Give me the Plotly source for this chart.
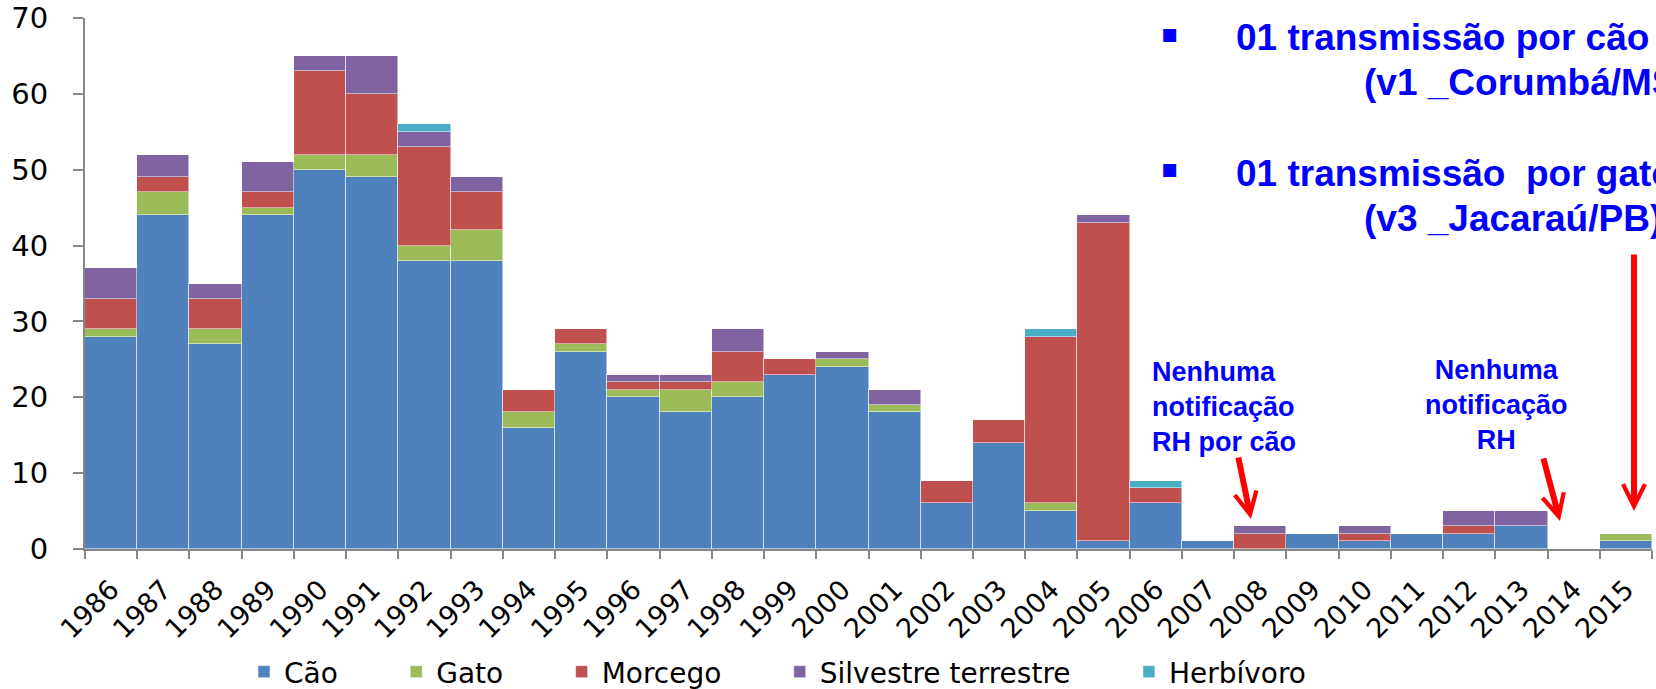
import plotly.graph_objects as go

# ---------------- data ----------------
years = ["1986", "1987", "1988", "1989", "1990", "1991", "1992", "1993", "1994", "1995",
         "1996", "1997", "1998", "1999", "2000", "2001", "2002", "2003", "2004", "2005",
         "2006", "2007", "2008", "2009", "2010", "2011", "2012", "2013", "2014", "2015"]
cao = [28, 44, 27, 44, 50, 49, 38, 38, 16, 26,
       20, 18, 20, 23, 24, 18, 6, 14, 5, 1,
       6, 1, 0, 2, 1, 2, 2, 3, 0, 1]
gato = [1, 3, 2, 1, 2, 3, 2, 4, 2, 1,
        1, 3, 2, 0, 1, 1, 0, 0, 1, 0,
        0, 0, 0, 0, 0, 0, 0, 0, 0, 1]
morcego = [4, 2, 4, 2, 11, 8, 13, 5, 3, 2,
           1, 1, 4, 2, 0, 0, 3, 3, 22, 42,
           2, 0, 2, 0, 1, 0, 1, 0, 0, 0]
silvestre = [4, 3, 2, 4, 2, 5, 2, 2, 0, 0,
             1, 1, 3, 0, 1, 2, 0, 0, 0, 1,
             0, 0, 1, 0, 1, 0, 2, 2, 0, 0]
herbivoro = [0, 0, 0, 0, 0, 0, 1, 0, 0, 0,
             0, 0, 0, 0, 0, 0, 0, 0, 1, 0,
             1, 0, 0, 0, 0, 0, 0, 0, 0, 0]
series_names = ["Cão", "Gato", "Morcego", "Silvestre terrestre", "Herbívoro"]
series_values = [cao, gato, morcego, silvestre, herbivoro]
series_colors = ["#4F81BD", "#9BBB59", "#C0504D", "#8064A2", "#4BACC6"]

# ---------------- layout geometry ----------------
W, H = 1656, 689
ML, MR, MT, MB = 85, 4, 18, 140
PW = W - ML - MR
PH = H - MT - MB


def px_x(px):
    return (px - ML) / PW


def px_y(py):
    return (H - MB - py) / PH


LEGEND_PAD = "\u00a0" * 6  # extra spacing between legend entries

fig = go.Figure()
for i, (name, vals, col) in enumerate(zip(series_names, series_values, series_colors)):
    label = name + (LEGEND_PAD if i < len(series_names) - 1 else "")
    fig.add_trace(go.Bar(
        x=years,
        y=[v if v else None for v in vals],
        name=label,
        marker=dict(color=col, line=dict(color="rgba(255,255,255,0.5)", width=1)),
    ))

CHART_FONT = "DejaVu Sans"
AX_COLOR = "#878787"

fig.update_layout(
    width=W, height=H,
    margin=dict(l=ML, r=MR, t=MT, b=MB, pad=0, autoexpand=False),
    barmode="stack",
    bargap=0,
    plot_bgcolor="white",
    paper_bgcolor="white",
    font=dict(family=CHART_FONT, color="black"),
    showlegend=True,
    legend=dict(
        orientation="h",
        traceorder="normal",
        xref="container", yref="container",
        x=244 / W, xanchor="left",
        y=1 - 672 / H, yanchor="middle",
        font=dict(family=CHART_FONT, size=28, color="black"),
        bgcolor="rgba(0,0,0,0)",
    ),
    xaxis=dict(
        type="category",
        automargin=False,
        tickson="boundaries",
        ticks="outside", ticklen=8, tickwidth=2, tickcolor=AX_COLOR,
        showline=True, linecolor=AX_COLOR, linewidth=2,
        showgrid=False,
        tickangle=-45,
        tickfont=dict(family=CHART_FONT, size=27, color="black"),
        ticklabelstandoff=12,
    ),
    yaxis=dict(
        range=[0, 70], dtick=10,
        automargin=False,
        ticks="outside", ticklen=10, tickwidth=2, tickcolor=AX_COLOR,
        showline=True, linecolor=AX_COLOR, linewidth=2,
        showgrid=False, zeroline=False,
        tickfont=dict(family=CHART_FONT, size=29, color="black"),
        ticklabelstandoff=19,
    ),
)

BLUE = "#0000FF"
TXT_FONT = "Liberation Sans"
annots = []

# bullets
for yy in (33, 168):
    annots.append(dict(xref="paper", yref="paper", x=px_x(1170), y=px_y(yy),
                       xanchor="center", yanchor="middle", showarrow=False,
                       text="▪", font=dict(family="DejaVu Sans", size=26, color=BLUE)))

big_lines = [
    ("<b>01 transmissão por cão</b>", 1234, 37),
    ("<b>(v1 _Corumbá/MS)</b>", 1362, 82),
    ("<b>01 transmissão  por gato</b>", 1234, 173),
    ("<b>(v3 _Jacaraú/PB)</b>", 1362, 218),
]
for txt, xx, yy in big_lines:
    annots.append(dict(xref="paper", yref="paper", x=px_x(xx), y=px_y(yy),
                       xanchor="left", yanchor="middle", showarrow=False,
                       text=txt, font=dict(family=TXT_FONT, size=37, color=BLUE)))

annots.append(dict(xref="paper", yref="paper", x=px_x(1150), y=px_y(407),
                   xanchor="left", yanchor="middle", align="left", showarrow=False,
                   text="<b>Nenhuma<br>notificação<br>RH por cão</b>",
                   font=dict(family=TXT_FONT, size=27, color=BLUE)))
annots.append(dict(xref="paper", yref="paper", x=px_x(1496), y=px_y(405),
                   xanchor="center", yanchor="middle", align="center", showarrow=False,
                   text="<b>Nenhuma<br>notificação<br>RH</b>",
                   font=dict(family=TXT_FONT, size=27, color=BLUE)))

# red arrows (head position, tail offset in px)
for hx, hy, tx, ty in [(1251, 519, 1238, 456), (1560, 521, 1543, 457), (1634, 511, 1634, 253)]:
    annots.append(dict(xref="paper", yref="paper", x=px_x(hx), y=px_y(hy),
                       ax=tx - hx, ay=ty - hy, axref="pixel", ayref="pixel",
                       text="", showarrow=True, arrowhead=5, arrowsize=0.72,
                       arrowwidth=6, arrowcolor="#FF0000", standoff=0, startstandoff=0))

fig.update_layout(annotations=annots)

fig.write_html("out.html", config={"displayModeBar": False},
               post_script="document.body.style.margin='0';")
